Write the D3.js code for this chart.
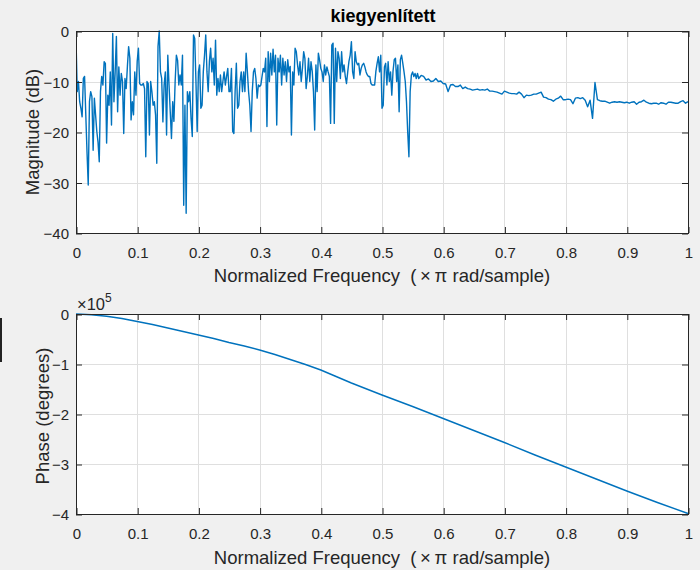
<!DOCTYPE html>
<html><head><meta charset="utf-8">
<script src="https://cdn.jsdelivr.net/npm/d3@7"></script>
<style>
html,body{margin:0;padding:0;background:#f0f0f0;}
svg{display:block;}
text{font-family:"Liberation Sans",Arial,Helvetica,sans-serif;}
</style></head>
<body>
<svg id="chart" width="700" height="570"></svg>
<script>
// ---- data ----
const xTicks = [0,0.1,0.2,0.3,0.4,0.5,0.6,0.7,0.8,0.9,1];
const magTicks = [-40,-30,-20,-10,0];
const phaseTicks = [-4,-3,-2,-1,0];
const titleText = "kiegyenlített";
const xLabelText = "Normalized Frequency  (\u2009\u00d7\u2009\u03c0 rad/sample)";
const magLabelText = "Magnitude (dB)";
const phaseLabelText = "Phase (degrees)";

// magnitude (dB), step 0.002 from 0 to 0.560
const magHeadStep = 0.002;
const magHead = [
-1.5,-12,-10,-14,-15.3,-17,-9.4,-9,-16.6,-24,
-30.5,-14,-12,-13,-23.6,-13.3,-16.6,-19.9,-22,-25.9,
-12,-9,-10.7,-6.1,-6.4,-22.2,-12.7,-14.7,-8.1,-18.6,
-0.5,-14,-8.1,-1.1,-16,-7.1,-12.7,-8.4,-10,-20.3,
-9.4,-11.4,-7,-3.1,-5.4,-17.6,-14,-16.6,-8.1,-12.7,
-6,-3.4,-10.4,-10.7,-10.7,-10.4,-11.4,-24.9,-10,-10.4,
-20.6,-10,-12,-14.7,-14,-16.6,-26.2,-3.1,0,-8.1,
-9.4,-18,-10.7,-8.1,-20.6,-4.8,-10.7,-16,-21.3,-14,
-17.9,-10,-4.8,-5.8,-10.7,-8.7,-10.7,-4.8,-34.5,-14.7,
-36.1,-12,-14,-12,-17.3,-20.9,-0.8,-1.5,-10,-19.9,
-8.1,-6.7,-15.3,-14.7,-8.1,-4.8,-0.8,-8.1,-12,-6,
-3.4,-8.1,-5.4,-10.7,-1.8,-12.7,-9.4,-12,-8.7,-12,
-10,-8.1,-10.7,-9,-7.4,-12,-12,-7.4,-19.9,-20.3,
-12,-6.4,-15.3,-14.7,-10,-8.1,-12,-8.1,-12,-4.4,
-8,-12,-14.7,-19.9,-12,-8.1,-7.4,-9.4,-13.3,-10.7,
-11,-10.7,-9,-7.4,-8.1,-5.4,-18.9,-4.1,-10,-4.4,
-8.7,-3.6,-8.1,-4.8,-18.6,-5.4,-8.1,-4.8,-10.7,-5.4,
-8.7,-6.1,-10,-5.7,-8.1,-7,-20.6,-8.1,-10.7,-3.4,
-4.1,-6.7,-8.7,-6.1,-10,-7.4,-4.1,-5.4,-11.4,-9,
-5.4,-10,-6.1,-8,-12,-19.6,-6.7,-12,-4.4,-5.7,
-7.4,-8.1,-10,-6.7,-8.7,-7.1,-8.1,-9,-18.3,-2.8,
-2.4,-18.3,-3.4,-10,-4.1,-5.4,-9.4,-4.1,-8.1,-6.7,
-9,-10.4,-8.1,-6,-4.8,-2.1,-8.1,-9.4,-4.1,-6.1,
-6.7,-6.4,-8.7,-7.4,-6.7,-6.4,-7.1,-8.1,-8.7,-9,
-9,-10.4,-10.7,-10.7,-10.7,-8,-6.4,-5.1,-8.1,-4.8,
-15.3,-14.7,-7.1,-6.4,-10.7,-6.1,-10,-8.1,-12.7,-8,
-5.7,-5.4,-10,-6.7,-16,-5.7,-4.8,-6.4,-8.1,-10,
-14,-20,-24.9,-12,-8.7,-8.1,-9,-8.4,-9.4,-8.4,
-9.4
];
// magnitude (dB), step 0.004 from 0.564 to 1.000
const magTailStart = 0.564;
const magTailStep = 0.004;
const magTail = [
-8.8,-9.0,-9.7,-9.5,-10.0,-9.9,-9.4,-10.0,-9.9,-10.4,
-10.5,-12.0,-10.7,-10.6,-11.0,-11.0,-10.7,-11.4,-11.1,-11.4,
-11.5,-11.7,-11.6,-11.5,-11.7,-11.6,-11.7,-11.5,-11.9,-11.9,
-12.0,-12.1,-12.3,-12.5,-11.9,-12.1,-12.3,-12.4,-12.4,-12.5,
-12.1,-12.5,-13.2,-12.7,-12.8,-12.7,-12.5,-12.5,-12.3,-12.1,
-13.1,-13.2,-13.5,-13.6,-13.9,-13.5,-13.3,-12.9,-13.6,-13.6,
-13.5,-13.6,-14.4,-13.3,-13.2,-13.4,-13.2,-13.7,-15.0,-13.7,
-17.3,-10.2,-13.6,-13.8,-13.9,-13.9,-14.1,-14.3,-14.1,-14.0,
-14.1,-14.0,-14.1,-14.2,-14.1,-14.3,-14.1,-14.0,-14.5,-14.1,
-14.0,-13.7,-14.1,-14.3,-14.4,-14.3,-14.3,-14.5,-14.2,-14.3,
-14.5,-14.1,-14.1,-14.2,-14.3,-14.3,-14.0,-13.8,-14.3,-14.0
];

// phase (x 1e5 degrees)
const phaseFreq = [0,0.025,0.05,0.075,0.1,0.125,0.15,0.175,0.2,0.225,0.25,0.275,0.3,0.325,0.35,0.375,0.4,0.425,0.45,0.5,0.55,0.6,0.65,0.7,0.75,0.8,0.85,0.9,0.95,1];
const phaseVal  = [0,-0.015,-0.045,-0.09,-0.15,-0.21,-0.28,-0.35,-0.42,-0.49,-0.57,-0.64,-0.72,-0.81,-0.91,-1.01,-1.12,-1.25,-1.38,-1.62,-1.85,-2.09,-2.33,-2.57,-2.82,-3.06,-3.30,-3.54,-3.77,-3.99];

// ---- drawing ----
const svg = d3.select("#chart");
const INK = "#262626", GRID = "#dfdfdf", LINE = "#0072bd";
const TICKFS = 15, LABELFS = 18.5;
const x = d3.scaleLinear().domain([0,1]).range([76,688]);

const magData = magHead.map((v,i)=>({f:i*magHeadStep, v}))
  .concat(magTail.map((v,j)=>({f:magTailStart+j*magTailStep, v})));
const phaseData = phaseFreq.map((f,i)=>({f, v:phaseVal[i]}));

function panel(id, yDomain, yRange, yTicks, data, xlabY){
  const y = d3.scaleLinear().domain(yDomain).range(yRange);
  const [x0,x1] = x.range(); const yb = yRange[0], yt = yRange[1];
  const g = svg.append("g");
  g.append("rect").attr("x",x0).attr("y",yt).attr("width",x1-x0).attr("height",yb-yt).attr("fill","#fff");
  g.append("g").selectAll("line").data(xTicks).join("line")
    .attr("x1",d=>Math.round(x(d))+0.5).attr("x2",d=>Math.round(x(d))+0.5)
    .attr("y1",yt).attr("y2",yb).attr("stroke",GRID).attr("stroke-width",1);
  g.append("g").selectAll("line").data(yTicks).join("line")
    .attr("y1",d=>Math.round(y(d))+0.5).attr("y2",d=>Math.round(y(d))+0.5)
    .attr("x1",x0).attr("x2",x1).attr("stroke",GRID).attr("stroke-width",1);
  svg.append("clipPath").attr("id",id).append("rect")
    .attr("x",x0).attr("y",yt-1).attr("width",x1-x0+1).attr("height",yb-yt+2);
  g.append("path").datum(data).attr("clip-path",`url(#${id})`)
    .attr("fill","none").attr("stroke",LINE).attr("stroke-width",1.4).attr("stroke-linejoin","round")
    .attr("d", d3.line().x(d=>x(d.f)).y(d=>y(d.v)));
  const fmtX = d=>String(+d.toFixed(1));
  const ab = g.append("g").attr("transform",`translate(0.5,${yb})`)
    .call(d3.axisBottom(x).tickValues(xTicks).tickSizeInner(-6).tickSizeOuter(0).tickFormat(fmtX));
  const at = g.append("g").attr("transform",`translate(0.5,${yt})`)
    .call(d3.axisTop(x).tickValues(xTicks).tickSizeInner(-6).tickSizeOuter(0).tickFormat(""));
  const al = g.append("g").attr("transform",`translate(${x0},0.5)`)
    .call(d3.axisLeft(y).tickValues(yTicks).tickSizeInner(-6).tickSizeOuter(0).tickFormat(d3.format("d")));
  const ar = g.append("g").attr("transform",`translate(${x1},0.5)`)
    .call(d3.axisRight(y).tickValues(yTicks).tickSizeInner(-6).tickSizeOuter(0).tickFormat(""));
  [ab,at,al,ar].forEach(a=>{
    a.select(".domain").remove();
    a.selectAll(".tick line").attr("stroke",INK);
    a.selectAll("text").attr("fill",INK).attr("font-size",TICKFS).attr("font-family",'"Liberation Sans",Arial,sans-serif');
  });
  ab.selectAll("text").attr("y",null).attr("dy",null).attr("transform","translate(0,25)");
  al.selectAll("text").attr("x",-7).attr("dy","0.35em");
  g.append("rect").attr("x",x0+0.5).attr("y",yt+0.5).attr("width",x1-x0).attr("height",yb-yt)
    .attr("fill","none").attr("stroke",INK).attr("stroke-width",1);
  g.append("text").attr("x",(x0+x1)/2).attr("y",yb+xlabY).attr("text-anchor","middle")
    .style("white-space","pre").attr("xml:space","preserve")
    .attr("font-size",LABELFS).attr("fill",INK).text(xLabelText);
  return {g,y};
}

panel("clipMag",[-40,0],[233,31],magTicks,magData,49);
panel("clipPh",[-4,0],[514,314],phaseTicks,phaseData,50);

svg.append("text").attr("x",383).attr("y",22).attr("text-anchor","middle")
  .attr("font-size",18).attr("font-weight","bold").attr("fill","#000").text(titleText);
svg.append("text").attr("transform","translate(38.5,132) rotate(-90)").attr("text-anchor","middle")
  .attr("font-size",LABELFS).attr("fill",INK).text(magLabelText);
svg.append("text").attr("transform","translate(48.5,416) rotate(-90)").attr("text-anchor","middle")
  .attr("font-size",LABELFS).attr("fill",INK).text(phaseLabelText);
const ex = svg.append("text").attr("x",77).attr("y",310).attr("font-size",16.5).attr("fill",INK);
ex.append("tspan").text("\u00d710");
ex.append("tspan").attr("dy",-8).attr("font-size",12).text("5");
svg.append("rect").attr("x",0).attr("y",318).attr("width",2).attr("height",44).attr("fill","#222");
</script>
</body></html>
